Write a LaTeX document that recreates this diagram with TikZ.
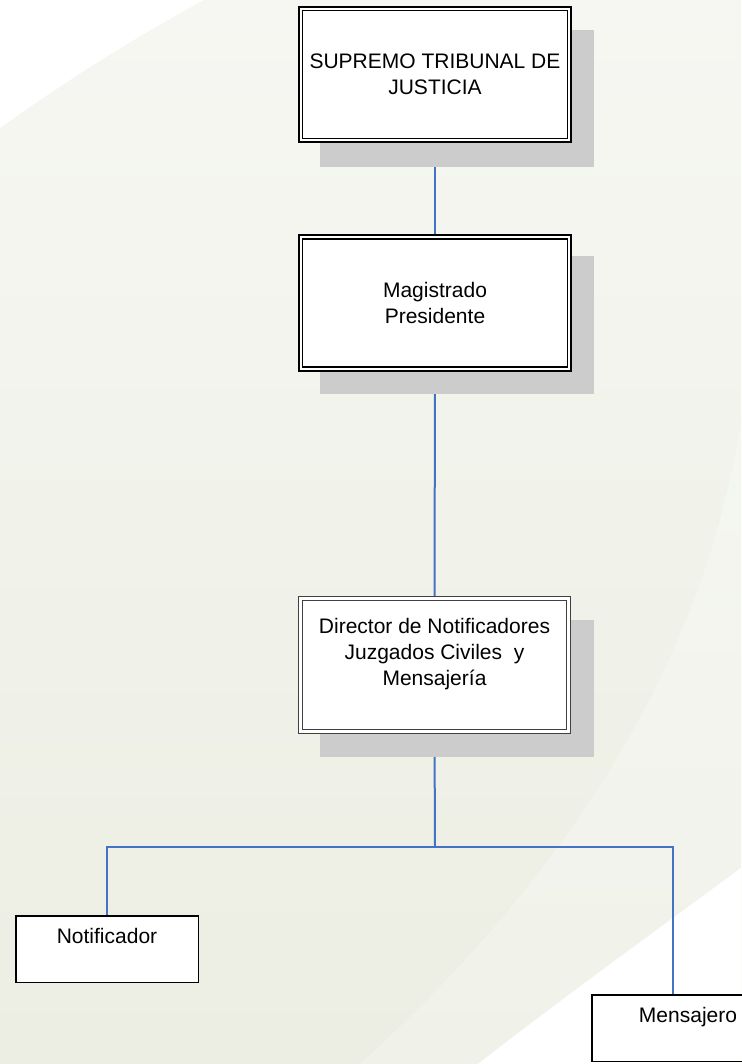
\documentclass[tikz,border=0pt]{standalone}
\usepackage{fontspec}
\setmainfont{Liberation Sans}
\usetikzlibrary{calc}
\definecolor{bgtop}{RGB}{246,247,242}
\definecolor{bgbot}{RGB}{236,238,227}
\definecolor{shadowgray}{RGB}{204,204,204}
\definecolor{linkblue}{RGB}{68,114,196}
\pgfdeclarelayer{bgl}
\pgfdeclarelayer{conn}
\pgfdeclarelayer{shad}
\pgfsetlayers{bgl,conn,shad,main}
\begin{document}
\begin{tikzpicture}[x=1pt,y=-1pt,
  boxfont/.style={font=\fontsize{21}{26}\selectfont},
  dblbox/.style={draw=black, double=white, line width=1.6pt, double distance=2.2pt,
    fill=white, minimum width=268.6pt, minimum height=131.6pt, inner sep=0pt,
    align=center, boxfont},
  thinbox/.style={draw=black!75, double=white, line width=0.9pt, double distance=3pt,
    fill=white, minimum width=268.2pt, minimum height=133.2pt, inner sep=0pt,
    align=center, boxfont},
  leafbox/.style={draw=black, line width=1.5pt, fill=white, minimum width=182.5pt,
    minimum height=66.5pt, inner sep=0pt, align=center, boxfont},
  shadowfill/.style={fill=shadowgray},
  link/.style={draw=linkblue, line width=2pt}]
\useasboundingbox (0,0) rectangle (741,1064);
\begin{pgfonlayer}{bgl}
  \fill[top color=bgtop, bottom color=bgbot] (0,0) rectangle (741,1064);
  \fill[white] (0,0) -- (204,0) .. controls (130,40) and (60,85) .. (0,128) -- cycle;
  \fill[white, opacity=0.25] (741,420) .. controls (700,700) and (520,920) .. (360,1064) -- (741,1064) -- cycle;
  \fill[white] (741,1064) -- (741,868) .. controls (650,935) and (560,1000) .. (478,1064) -- cycle;
\end{pgfonlayer}

\node[dblbox] (b1) at (435,74.5) {SUPREMO TRIBUNAL DE\\JUSTICIA};
\node[dblbox] (b2) at (435,303) {Magistrado\\Presidente};
\node[thinbox] (b3) at (434.5,665) {Director de Notificadores\\Juzgados Civiles\ \ y\\Mensajería\\\mbox{}};
\node[leafbox] (n1) at (107,949) {Notificador\\\mbox{}};
\node[leafbox, minimum width=192.5pt] (m1) at (688,1028) {Mensajero\\\mbox{}};
\coordinate (split) at (435,847);

\begin{pgfonlayer}{shad}
  \fill[shadowfill] (320,30) rectangle (594,167);
  \fill[shadowfill] (320,256) rectangle (594,394);
  \fill[shadowfill] (320,620) rectangle (594,757);
\end{pgfonlayer}

\begin{pgfonlayer}{conn}
  \draw[link] (b1.south) -- (b2.north);
  \draw[link] (b2.south) -- (b3.north);
  \draw[link] (b3.south) -- (split);
  \draw[link] (n1.north) |- (split) -| ([xshift=-15pt]m1.north);
\end{pgfonlayer}
\end{tikzpicture}
\end{document}
